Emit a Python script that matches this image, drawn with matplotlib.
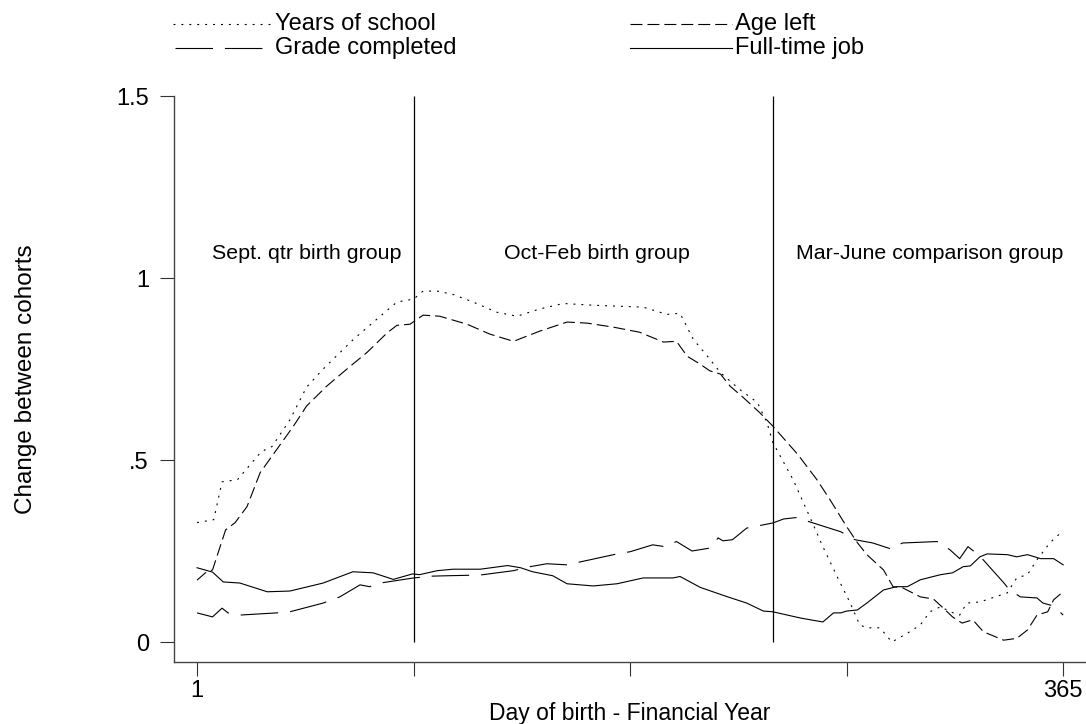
import matplotlib
matplotlib.use("Agg")
import matplotlib.pyplot as plt
from matplotlib.lines import Line2D

plt.rcParams["font.family"] = ["Liberation Sans", "DejaVu Sans"]
plt.rcParams["lines.scale_dashes"] = False

# Years of school (dotted)
school_day = [1, 8, 11.5, 18, 28, 32.5, 40, 47, 54, 66.5, 78, 85, 92, 96, 102, 108.5,
              117, 127, 135.5, 145, 155, 165, 176, 188.5, 198.5, 204, 209.5, 215.5,
              221, 229, 236.5, 240.5, 243, 247, 251.5, 258.5, 264, 270, 275.5, 279.5,
              282.5, 288, 293, 299.5, 305, 309, 313.5, 317.5, 321.5, 324.5, 330, 341.5,
              345.5, 350, 354, 359.5, 364]
school_val = [0.328, 0.336, 0.44, 0.446, 0.523, 0.537, 0.61, 0.70, 0.75, 0.83, 0.895,
              0.934, 0.942, 0.964, 0.964, 0.955, 0.934, 0.906, 0.895, 0.915, 0.93, 0.926,
              0.923, 0.92, 0.90, 0.903, 0.832, 0.785, 0.74, 0.694, 0.658, 0.603, 0.548,
              0.50, 0.446, 0.344, 0.262, 0.18, 0.107, 0.047, 0.039, 0.039, 0.0, 0.024,
              0.047, 0.083, 0.097, 0.083, 0.074, 0.107, 0.11, 0.135, 0.176, 0.185, 0.226,
              0.273, 0.30]

# Age left (dashed)
age_day = [1, 4.5, 7.5, 13, 17, 22, 27.5, 34.5, 41.5, 47, 55.5, 64, 72.5, 81, 85, 90.5,
           96, 103, 114.5, 124, 134, 145, 156.5, 165, 176, 187, 197, 202.5, 207, 212.5,
           216.5, 221, 225, 230.5, 237.5, 243, 253.5, 261.5, 267, 274, 278.5, 282.5,
           289.5, 293.5, 297.5, 305, 310.5, 314.5, 318.5, 322.5, 327, 331.5, 340, 345.5,
           350, 354, 358.5, 361, 365]
age_val = [0.17, 0.19, 0.198, 0.308, 0.328, 0.372, 0.465, 0.529, 0.593, 0.648, 0.703,
           0.75, 0.796, 0.85, 0.87, 0.873, 0.898, 0.895, 0.873, 0.846, 0.826, 0.854,
           0.879, 0.876, 0.865, 0.851, 0.824, 0.826, 0.785, 0.763, 0.745, 0.736, 0.703,
           0.672, 0.63, 0.593, 0.515, 0.446, 0.391, 0.317, 0.273, 0.24, 0.198, 0.152,
           0.149, 0.124, 0.118, 0.094, 0.069, 0.052, 0.061, 0.028, 0.005, 0.01, 0.033,
           0.074, 0.083, 0.116, 0.138]

# Grade completed (long dash)
grade_day = [1, 7.5, 11.5, 14, 19, 34.5, 40, 54, 61, 69.5, 73.5, 79, 92, 100, 106, 120,
             134, 141, 148, 156.5, 162, 177.5, 183, 192.5, 197.5, 202.5, 209, 216.5, 220,
             222, 226, 232, 237.5, 243, 247.5, 253, 258.5, 271.5, 277.5, 285, 292.5,
             297.5, 312, 317.5, 321.5, 325, 330, 340, 342.5, 347, 354, 356.5, 361, 365]
grade_val = [0.08, 0.069, 0.093, 0.08, 0.074, 0.08, 0.083, 0.107, 0.124, 0.157, 0.152,
             0.163, 0.176, 0.181, 0.182, 0.184, 0.196, 0.207, 0.215, 0.212, 0.22, 0.242,
             0.248, 0.267, 0.262, 0.276, 0.25, 0.258, 0.286, 0.278, 0.281, 0.313, 0.32,
             0.327, 0.338, 0.342, 0.33, 0.303, 0.281, 0.272, 0.256, 0.272, 0.276, 0.253,
             0.229, 0.262, 0.236, 0.163, 0.143, 0.124, 0.121, 0.107, 0.099, 0.074]

# Full-time job (solid)
job_day = [1, 7.5, 12, 19, 30.5, 40, 54, 66.5, 75, 83.5, 91.5, 94.5, 102, 108.5, 120,
           131.5, 137, 142, 150.5, 156.5, 167.5, 177.5, 188.5, 201, 204, 212.5, 224,
           232, 239, 243, 254.5, 264, 268.5, 271.5, 274, 278.5, 282.5, 289.5, 295, 299.5,
           305, 313.5, 318.5, 323, 326, 330, 333, 341.5, 345.5, 350, 355.5, 361, 365]
job_val = [0.204, 0.192, 0.165, 0.162, 0.138, 0.14, 0.162, 0.193, 0.19, 0.172, 0.187,
           0.185, 0.196, 0.2, 0.2, 0.21, 0.204, 0.193, 0.182, 0.16, 0.154, 0.16, 0.176,
           0.176, 0.18, 0.15, 0.124, 0.107, 0.085, 0.083, 0.066, 0.055, 0.08, 0.08, 0.085,
           0.088, 0.107, 0.143, 0.152, 0.152, 0.171, 0.185, 0.19, 0.207, 0.209, 0.234,
           0.242, 0.24, 0.234, 0.24, 0.229, 0.229, 0.212]

group_x = [47, 169, 309]
group_labels = ["Sept. qtr birth group", "Oct-Feb birth group", "Mar-June comparison group"]
cutoffs = [92, 243]
xticks = [1, 92, 183, 274, 365]
xtick_labels = ["1", "", "", "", "365"]
yticks = [0, 0.5, 1, 1.5]
ytick_labels = ["0", ".5", "1", "1.5"]

DOT = (0, (1.4, 4.3))
DASH = (0, (8.6, 3.6))
LONG = (0, (27, 8.6))
LW = 0.8

fig = plt.figure(figsize=(10.86, 7.24), dpi=100)
ax = fig.add_axes([0.1602, 0.0856, 0.8398, 0.7818])

ax.plot(school_day, school_val, color="black", lw=LW, linestyle=DOT)
ax.plot(age_day, age_val, color="black", lw=LW, linestyle=DASH)
ax.plot(grade_day, grade_val, color="black", lw=LW, linestyle=LONG)
ax.plot(job_day, job_val, color="black", lw=LW)
ax.vlines(cutoffs, 0, 1.5, color="black", lw=0.9)

for gx, lab in zip(group_x, group_labels):
    ax.text(gx, 1.066, lab, ha="center", va="center", fontsize=15.4)

ax.set_xlim(-8.7, 374.6)
ax.set_ylim(-0.055, 1.5)
ax.set_xticks(xticks, xtick_labels)
ax.set_yticks(yticks, ytick_labels)
ax.tick_params(direction="out", length=10, width=0.8, labelsize=17, color="#333333")
ax.tick_params(axis="y", pad=8)
ax.tick_params(axis="x", pad=3)
for s in ["top", "right"]:
    ax.spines[s].set_visible(False)
for s in ["left", "bottom"]:
    ax.spines[s].set_linewidth(1.0)
    ax.spines[s].set_color("#444444")

ax.set_xlabel("Day of birth - Financial Year", fontsize=16.5, labelpad=0)
ax.set_ylabel("Change between cohorts", fontsize=17.5, labelpad=57)

# legend drawn by hand: two columns with different sample lengths
rows = [1 - 24 / 724, 1 - 48 / 724]
entries = [
    (173, 270, 275, rows[0], DOT, "Years of school"),
    (175, 270, 275, rows[1], LONG, "Grade completed"),
    (630, 732, 735, rows[0], DASH, "Age left"),
    (630, 732, 735, rows[1], "-", "Full-time job"),
]
for x0, x1, xt, y, ls, lab in entries:
    fig.add_artist(Line2D([x0 / 1086, x1 / 1086], [y, y], transform=fig.transFigure,
                          color="black", lw=LW, linestyle=ls))
    fig.text(xt / 1086, y, lab, ha="left", va="center", fontsize=17)

fig.savefig("out.png", dpi=100)
